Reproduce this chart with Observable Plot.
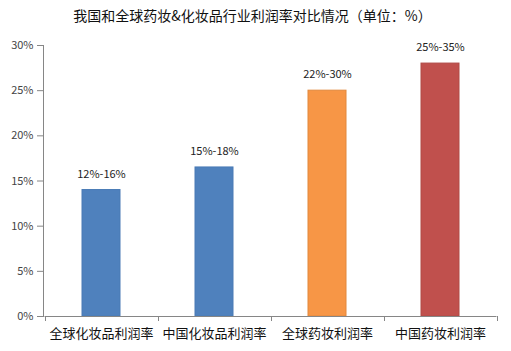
<!DOCTYPE html>
<html>
<head>
<meta charset="utf-8">
<script src="https://cdn.jsdelivr.net/npm/d3@7"></script>
<script src="https://cdn.jsdelivr.net/npm/@observablehq/plot@0.6"></script>
<style>
  html, body { margin: 0; padding: 0; background: #fff; }
  body { width: 511px; height: 351px; overflow: hidden; font-family: "Noto Sans CJK SC", sans-serif; }
  #title { height: 30px; line-height: 30px; text-align: center; font-size: 14px; color: #111; padding-right: 6px; }
</style>
</head>
<body>
<div id="title">我国和全球药妆&amp;化妆品行业利润率对比情况（单位：%）</div>
<div id="chart"></div>
<script>
const categories = ["全球化妆品利润率", "中国化妆品利润率", "全球药妆利润率", "中国药妆利润率"];
const values = [14, 16.5, 25, 28];
const rangeLabels = ["12%-16%", "15%-18%", "22%-30%", "25%-35%"];
const colors = ["#4F81BD", "#4F81BD", "#F79646", "#C0504D"];
const strokes = ["#4A7BB5", "#4A7BB5", "#E2883C", "#B04A47"];
const yTicks = [0, 5, 10, 15, 20, 25, 30];

const data = categories.map((c, i) => ({cat: c, v: values[i], label: rangeLabels[i], fill: colors[i], stroke: strokes[i]}));

function boundaryTicks(index, scales) {
  const x = scales.x;
  const step = x.step();
  const off = x.bandwidth() / 2;
  const y0 = scales.y(0);
  const g = d3.create("svg:g").attr("stroke", "#868686").attr("stroke-width", 1);
  const xs = categories.map(c => x(c) + off - step / 2);
  xs.push(x(categories[categories.length - 1]) + off + step / 2);
  for (const px of xs) {
    g.append("line").attr("x1", Math.round(px) + 0.5).attr("x2", Math.round(px) + 0.5)
      .attr("y1", y0).attr("y2", y0 + 5);
  }
  g.append("line").attr("x1", xs[0]).attr("x2", xs[xs.length - 1])
    .attr("y1", Math.round(y0) + 0.5).attr("y2", Math.round(y0) + 0.5);
  return g.node();
}

const chart = Plot.plot({
  width: 511,
  height: 321,
  marginLeft: 43,
  marginRight: 13,
  marginTop: 15,
  marginBottom: 35,
  style: {fontFamily: "\"Noto Sans CJK SC\", sans-serif", background: "#fff"},
  x: {domain: categories, paddingInner: 0.66, paddingOuter: 0.33, label: null},
  y: {domain: [0, 30], label: null},
  marks: [
    Plot.barY(data, {x: "cat", y: "v", fill: d => d.fill, stroke: d => d.stroke, strokeWidth: 1}),
    Plot.text(data, {x: "cat", y: "v", text: "label", dy: -16, fontSize: 11, fill: "#222"}),
    Plot.axisY({ticks: yTicks, tickFormat: d => d + "%", tickSize: 6, tickPadding: 4, fontSize: 11, color: "#444", stroke: "#868686", label: null}),
    Plot.axisX({tickSize: 0, tickPadding: 12, fontSize: 13, fill: "#111", label: null}),
    Plot.frame({anchor: "left", stroke: "#868686"}),
    boundaryTicks
  ]
});
document.getElementById("chart").appendChild(chart);
</script>
</body>
</html>
